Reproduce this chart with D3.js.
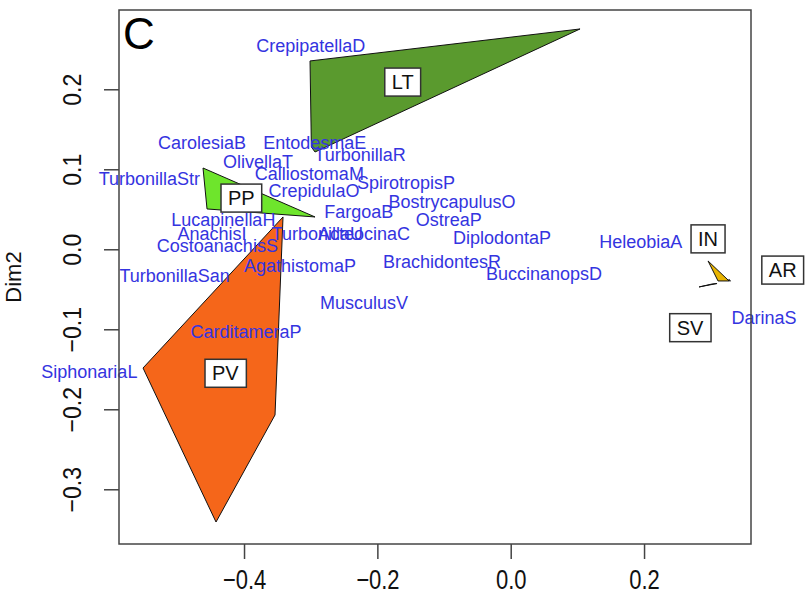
<!DOCTYPE html>
<html>
<head>
<meta charset="utf-8">
<script src="https://cdn.jsdelivr.net/npm/d3@7"></script>
<style>
  html, body { margin: 0; padding: 0; background: #fff; }
  svg { display: block; font-family: "Liberation Sans", Arial, Helvetica, sans-serif; }
</style>
</head>
<body>
<svg id="chart" width="805" height="612"></svg>
<script>
// ---- Data ----
const speciesNames = ["CrepipatellaD","CarolesiaB","EntodesmaE","TurbonillaR","OlivellaT","CalliostomaM",
  "TurbonillaStr","CrepidulaO","SpirotropisP","BostrycapulusO","FargoaB","OstreaP","LucapinellaH",
  "AnachisI","TurbonillaU","ActeocinaC","DiplodontaP","HeleobiaA","CostoanachisS","AgathistomaP",
  "BrachidontesR","BuccinanopsD","TurbonillaSan","MusculusV","CarditameraP","SiphonariaL","DarinaS"];
const speciesDim1 = [-0.300,-0.463,-0.294,-0.226,-0.379,-0.302,
  -0.542,-0.295,-0.157,-0.088,-0.228,-0.093,-0.431,
  -0.448,-0.290,-0.220,-0.013,0.195,-0.440,-0.316,
  -0.103,0.050,-0.504,-0.220,-0.397,-0.632,0.380];
const speciesDim2 = [0.254,0.133,0.133,0.118,0.109,0.095,
  0.088,0.073,0.083,0.059,0.047,0.037,0.037,
  0.020,0.020,0.020,0.014,0.009,0.005,-0.020,
  -0.016,-0.030,-0.033,-0.067,-0.103,-0.153,-0.085];

const groupNames = ["LT","PP","PV","IN","AR","SV"];
const groupDim1  = [-0.162,-0.404,-0.428,0.296,0.408,0.269];
const groupDim2  = [0.209,0.064,-0.155,0.013,-0.026,-0.098];
const groupColors = ["#5a9a2e","#6ee52c","#f5661a","#e8b400","#999999","#222222"];

// hull vertices per group
const hullLT_x = [-0.301, 0.104, -0.2935, -0.299];
const hullLT_y = [0.2354, 0.2754, 0.1216, 0.1279];
const hullPP_x = [-0.4615, -0.2935, -0.4555];
const hullPP_y = [0.1016, 0.0404, 0.0504];
const hullPV_x = [-0.3415, -0.5515, -0.4420, -0.3535];
const hullPV_y = [0.0404, -0.1484, -0.3409, -0.2071];
const hullIN_x = [0.2960, 0.3110, 0.3275];
const hullIN_y = [-0.0146, -0.0396, -0.0396];
const hullAR_x = [0.3260, 0.3295, 0.3280];
const hullAR_y = [-0.0388, -0.0398, -0.0378];
const hullSV_x = [0.2825, 0.3095, 0.3020];
const hullSV_y = [-0.0471, -0.0428, -0.0434];

const xTicks = [-0.4, -0.2, 0.0, 0.2];
const yTicks = [-0.3, -0.2, -0.1, 0.0, 0.1, 0.2];
const panelLabel = "C";
const yLabel = "Dim2";

// ---- Layout ----
const svg = d3.select("#chart");
const plot = {left: 119, right: 751, top: 10, bottom: 544};
const x = d3.scaleLinear().domain([-0.58753, 0.36043]).range([plot.left, plot.right]);
const y = d3.scaleLinear().domain([0.2991, -0.3684]).range([plot.top, plot.bottom]);

// hulls
const hulls = [
  {xs: hullLT_x, ys: hullLT_y, c: groupColors[0]},
  {xs: hullPP_x, ys: hullPP_y, c: groupColors[1]},
  {xs: hullPV_x, ys: hullPV_y, c: groupColors[2]},
  {xs: hullIN_x, ys: hullIN_y, c: groupColors[3]},
  {xs: hullAR_x, ys: hullAR_y, c: groupColors[4]},
  {xs: hullSV_x, ys: hullSV_y, c: groupColors[5]}
];
const line = d3.line().x(d => x(d[0])).y(d => y(d[1])).curve(d3.curveLinearClosed);
svg.append("g").selectAll("path").data(hulls).join("path")
  .attr("d", h => line(h.xs.map((v, i) => [v, h.ys[i]])))
  .attr("fill", h => h.c)
  .attr("stroke", "#111")
  .attr("stroke-width", 1)
  .attr("stroke-linejoin", "round");

// species labels
svg.append("g").selectAll("text").data(speciesNames).join("text")
  .attr("x", (d, i) => x(speciesDim1[i]))
  .attr("y", (d, i) => y(speciesDim2[i]))
  .attr("dy", "0.35em")
  .attr("text-anchor", "middle")
  .attr("font-size", 18)
  .attr("fill", "#3434e0")
  .text(d => d);

// group boxed labels
const gl = svg.append("g").selectAll("g").data(groupNames).join("g")
  .attr("transform", (d, i) => `translate(${x(groupDim1[i])},${y(groupDim2[i])})`);
gl.append("text")
  .attr("text-anchor", "middle")
  .attr("dy", "0.35em")
  .attr("font-size", 20)
  .attr("fill", "#111")
  .text(d => d);
gl.each(function() {
  const g = d3.select(this);
  const bb = g.select("text").node().getBBox();
  g.insert("rect", "text")
    .attr("x", bb.x - 7).attr("y", -14)
    .attr("width", bb.width + 14).attr("height", 28)
    .attr("fill", "#fff")
    .attr("stroke", "#333")
    .attr("stroke-width", 1.5);
});

// axes
const xAxis = d3.axisBottom(x).tickValues(xTicks).tickSize(15).tickFormat(d3.format(".1f"));
const gx = svg.append("g").attr("transform", `translate(0,${plot.bottom})`).call(xAxis);
gx.select(".domain").remove();
gx.selectAll(".tick line").attr("stroke", "#444").attr("stroke-width", 1.5);
gx.selectAll(".tick text")
  .attr("font-size", 22).attr("fill", "#111")
  .attr("font-family", "Liberation Sans, Arial, sans-serif")
  .attr("y", 0).attr("dy", "0.35em")
  .attr("transform", "translate(0,35) scale(1,1.25)");

const yAxis = d3.axisLeft(y).tickValues(yTicks).tickSize(15).tickFormat(d3.format(".1f"));
const gy = svg.append("g").attr("transform", `translate(${plot.left},0)`).call(yAxis);
gy.select(".domain").remove();
gy.selectAll(".tick line").attr("stroke", "#444").attr("stroke-width", 1.5);
gy.selectAll(".tick text")
  .attr("font-size", 23).attr("fill", "#111")
  .attr("font-family", "Liberation Sans, Arial, sans-serif")
  .attr("x", 0).attr("y", 0).attr("dy", 0)
  .attr("text-anchor", "middle")
  .attr("transform", "translate(-38,0) rotate(-90) scale(1,1.15)");

// box
svg.append("rect")
  .attr("x", plot.left).attr("y", plot.top)
  .attr("width", plot.right - plot.left).attr("height", plot.bottom - plot.top)
  .attr("fill", "none").attr("stroke", "#444").attr("stroke-width", 1.5);

// panel letter
svg.append("text").attr("x", 123).attr("y", 49).attr("font-size", 44).attr("fill", "#000").text(panelLabel);

// y label
svg.append("text")
  .attr("transform", `translate(21,${(plot.top + plot.bottom) / 2}) rotate(-90)`)
  .attr("text-anchor", "middle")
  .attr("font-size", 22).attr("fill", "#111")
  .text(yLabel);
</script>
</body>
</html>
